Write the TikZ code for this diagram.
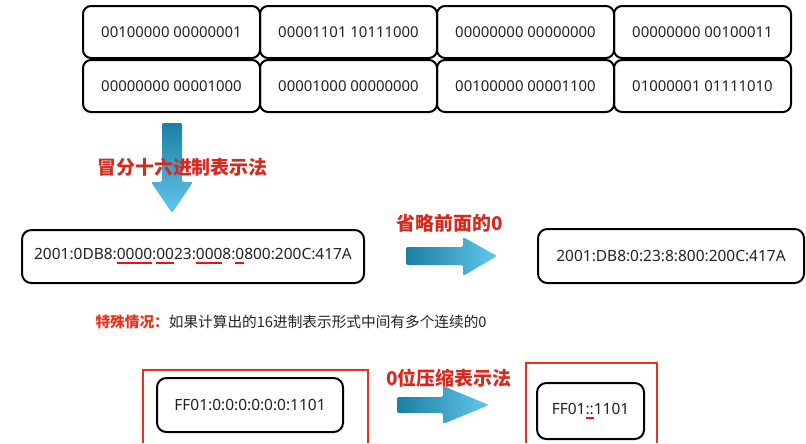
\documentclass[tikz,border=0pt]{standalone}
\usepackage{fontspec}
\setmainfont{Noto Sans}
\newfontfamily\cjk{Noto Sans CJK SC}
\usetikzlibrary{positioning}

\definecolor{titlered}{HTML}{D62A1E}
\definecolor{framered}{HTML}{E8321E}
\definecolor{ulred}{HTML}{F01010}
\definecolor{arrowdark}{HTML}{1B7FA3}
\definecolor{arrowlight}{HTML}{63C6EC}
\definecolor{textgray}{HTML}{222222}

% red underline under some digits
\newcommand{\redul}[1]{\sbox0{#1}\rlap{\color{ulred}\rule[-3.4pt]{\wd0}{1.5pt}}\usebox0}

\tikzset{every picture/.style={line width=0.75pt}}
\tikzset{
  cell/.style={draw, line width=1.5pt, rounded corners=6pt, minimum width=132.75pt, minimum height=39pt, inner sep=0pt, text=textgray, font=\fontsize{11.2}{13}\selectfont},
  addrbox/.style={draw, line width=1.5pt, rounded corners=7pt, inner sep=0pt, text=textgray, font=\fontsize{11.6}{13}\selectfont},
  redtitle/.style={inner sep=0.75pt, text=titlered, font=\cjk\bfseries\fontsize{14.2}{16}\selectfont},
  redframe/.style={draw=framered, line width=1.2pt},
  bluearrow/.style={rounded corners=1.5pt}
}

\begin{document}
\begin{tikzpicture}[x=0.75pt,y=0.75pt,yscale=-1,xscale=1]
\useasboundingbox (0,0) rectangle (806,443);

%Binary grid, row 1
\node[cell] (c11) at (171.5,32) {00100000 00000001};
\node[cell] (c12) at (348.5,32) {00001101 10111000};
\node[cell] (c13) at (525.5,32) {00000000 00000000};
\node[cell] (c14) at (702.5,32) {00000000 00100011};
%Binary grid, row 2
\node[cell] (c21) at (171.5,86) {00000000 00001000};
\node[cell] (c22) at (348.5,86) {00001000 00000000};
\node[cell] (c23) at (525.5,86) {00100000 00001100};
\node[cell] (c24) at (702.5,86) {01000001 01111010};

%Shape: Down Arrow
\shade[bluearrow, top color=arrowdark, bottom color=arrowlight] (162,123) -- (182,123) -- (182,182) -- (193,182) -- (172,213) -- (151,182) -- (162,182) -- cycle ;
% Text Node
\node[redtitle] (t1) at (182.5,167) {冒分十六进制表示法};

%Full address
\node[addrbox, minimum width=256.5pt, minimum height=39.75pt] (full) at (193,256.5) {2001:0DB8:\redul{0000}:\redul{00}23:\redul{000}8:\redul{0}800:200C:417A};

%Shape: Right Arrow
\shade[bluearrow, left color=arrowdark, right color=arrowlight] (406,247) -- (463,247) -- (463,237) -- (497,256) -- (463,276) -- (463,265) -- (406,265) -- cycle ;
% Text Node
\node[redtitle] (t2) at (450,223) {省略前面的0};

%Short address
\node[addrbox, minimum width=199.5pt, minimum height=40.5pt] (short) at (671,256) {2001:DB8:0:23:8:800:200C:417A};

% Text Node
\node[anchor=west, inner sep=0pt, font=\cjk\fontsize{11}{13}\selectfont, text=textgray] (note) at (95,322) {{\color{framered}\bfseries 特殊情况：}如果计算出的16进制表示形式中间有多个连续的0};

%Shape: Red Frames
\draw[redframe] (143,443) -- (143,370) -- (368,370) -- (368,443) ;
\draw[redframe] (526,443) -- (526,363) -- (657,363) -- (657,443) ;

%Zero address
\node[addrbox, minimum width=139.5pt, minimum height=40.5pt] (zeros) at (250,405) {FF01:0:0:0:0:0:0:1101};

%Shape: Right Arrow
\shade[bluearrow, left color=arrowdark, right color=arrowlight] (397,397) -- (443,397) -- (443,386) -- (489,405) -- (443,424) -- (443,413) -- (397,413) -- cycle ;
% Text Node
\node[redtitle] (t3) at (449,378) {0位压缩表示法};

%Compressed address
\node[addrbox, minimum width=80.25pt, minimum height=42pt] (comp) at (590.5,411) {FF01\redul{::}1101};

\end{tikzpicture}
\end{document}
